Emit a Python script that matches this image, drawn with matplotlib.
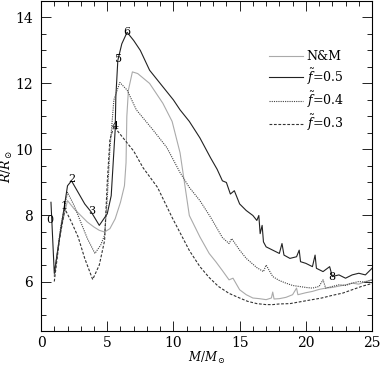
# Import libraries
import matplotlib
matplotlib.use('Agg')
import matplotlib.pyplot as plt
from matplotlib.ticker import MultipleLocator

# Data (mass in M_sun, radius in R_sun)
nm_x = [1.0, 1.5, 2.0, 2.5, 3.0, 3.5, 4.0, 4.4, 4.8, 5.2, 5.6, 6.0, 6.3, 6.42, 6.48, 6.6, 6.9, 7.3,
        8.2, 9.2, 9.9, 10.5, 11.2, 12.0, 12.7, 13.2, 13.7, 14.2, 14.5, 15.0, 15.5, 16.0, 16.5, 17.0,
        17.4, 17.5, 17.6, 18.0, 18.5, 19.0, 19.3, 19.4, 20.0, 20.5, 21.0, 21.5, 22.0, 22.5, 23.0,
        23.5, 24.0, 24.5, 25.0]
nm_y = [6.2, 7.6, 8.45, 8.2, 8.0, 7.8, 7.65, 7.55, 7.5, 7.6, 7.9, 8.4, 8.9, 9.6, 11.0, 11.8, 12.35, 12.3,
        12.0, 11.4, 10.85, 9.9, 8.0, 7.35, 6.85, 6.6, 6.33, 6.05, 6.1, 5.75, 5.6, 5.5, 5.48, 5.45,
        5.5, 5.68, 5.47, 5.48, 5.52, 5.6, 5.8, 5.6, 5.66, 5.7, 5.76, 5.8, 5.82, 5.86, 5.9,
        5.95, 5.92, 6.0, 6.05]

f05_x = [0.75, 1.0, 1.5, 2.0, 2.3, 2.8, 3.3, 3.8, 4.4, 5.0, 5.3, 5.6, 5.65, 5.8, 6.1, 6.5, 7.0, 7.5,
         8.2, 9.0, 10.0, 10.5, 11.2, 12.0, 12.8, 13.3, 13.7, 14.0, 14.3, 14.6, 15.0, 15.5, 16.0, 16.3,
         16.45, 16.55, 16.7, 16.8, 17.0, 17.5, 18.0, 18.2, 18.35, 18.8, 19.3, 19.5, 19.6, 20.0, 20.5,
         20.7, 20.8, 21.3, 21.8, 22.0, 22.5, 23.0, 23.5, 24.0, 24.5, 25.0]
f05_y = [8.4, 6.25, 7.6, 8.9, 9.05, 8.7, 8.35, 8.1, 7.7, 8.05, 8.6, 10.6, 11.6, 12.7, 13.2, 13.55, 13.3, 13.0,
         12.4, 12.0, 11.5, 11.2, 10.85, 10.35, 9.75, 9.4, 9.05, 9.0, 8.65, 8.75, 8.35, 8.15, 8.0, 7.85,
         8.0, 7.45, 7.7, 7.2, 7.05, 6.95, 6.85, 7.15, 6.8, 6.7, 6.75, 6.95, 6.6, 6.55, 6.45,
         6.8, 6.4, 6.3, 6.45, 6.15, 6.2, 6.1, 6.2, 6.25, 6.2, 6.4]

f04_x = [1.0, 1.5, 2.0, 2.5, 3.0, 3.5, 4.07, 4.5, 4.8, 5.0, 5.2, 5.5, 5.95, 6.5, 7.2, 8.44, 9.5,
         10.5, 11.2, 12.0, 12.8, 13.7, 14.2, 14.4, 15.0, 15.5, 16.3, 16.8, 17.0, 17.5, 18.0, 18.5,
         19.0, 19.5, 20.0, 20.5, 21.0, 21.3, 21.5, 22.0, 22.5, 23.0, 23.5, 24.0, 24.5, 25.0]
f04_y = [6.15, 7.7, 8.7, 8.3, 7.8, 7.3, 6.85, 7.1, 7.4, 8.5, 10.0, 11.5, 12.03, 11.8, 11.2, 10.6, 10.06,
         9.3, 8.85, 8.45, 7.95, 7.33, 7.15, 7.3, 6.95, 6.7, 6.42, 6.3, 6.5, 6.15, 6.03, 5.95,
         5.88, 5.85, 5.82, 5.8, 5.85, 6.05, 5.8, 5.85, 5.9, 5.88, 5.95, 6.0, 5.98, 6.05]

f03_x = [1.0, 1.4, 1.8, 2.3, 2.8, 3.3, 3.9, 4.4, 4.8, 5.0, 5.2, 5.5, 6.2, 7.0, 7.7, 8.8, 9.9, 11.2,
         12.0, 12.7, 13.4, 14.2, 15.0, 15.6, 16.3, 17.0, 17.5, 18.0, 18.8, 19.5, 20.2, 21.2, 22.0,
         22.8, 23.5, 24.2, 25.0]
f03_y = [6.0, 7.3, 8.2, 7.8, 7.35, 6.7, 6.06, 6.5, 7.24, 9.0, 10.3, 10.7, 10.35, 9.95, 9.45, 8.85, 7.94, 6.94,
         6.45, 6.12, 5.85, 5.64, 5.5, 5.4, 5.33, 5.3, 5.3, 5.32, 5.33, 5.38, 5.43, 5.5, 5.58,
         5.65, 5.75, 5.85, 5.94]

legend_labels = ['N&M', r'$\tilde{f}$=0.5', r'$\tilde{f}$=0.4', r'$\tilde{f}$=0.3']
point_labels = ['0', '1', '2', '3', '4', '5', '6', '8']
point_x = [0.7, 1.75, 2.3, 3.8, 5.6, 5.85, 6.5, 22.0]
point_y = [7.85, 8.3, 9.1, 8.15, 10.7, 12.75, 13.55, 6.15]

# make plots look like the paper
plt.rcParams['font.family'] = 'DejaVu Serif'
plt.rcParams['mathtext.fontset'] = 'dejavuserif'

fig = plt.figure(figsize=(3.8, 3.68), dpi=100)
ax = fig.add_axes([0.108, 0.1005, 0.871, 0.897])

ax.plot(nm_x, nm_y, color='#aaaaaa', lw=0.8, label=legend_labels[0])
ax.plot(f05_x, f05_y, color='#222222', lw=0.8, label=legend_labels[1])
ax.plot(f04_x, f04_y, color='#444444', lw=0.8, ls=(0, (1, 1)), label=legend_labels[2])
ax.plot(f03_x, f03_y, color='#333333', lw=0.8, ls=(0, (2.5, 1.5)), label=legend_labels[3])

for lab, px, py in zip(point_labels, point_x, point_y):
    ax.text(px, py, lab, fontsize=8, ha='center', va='center')

ax.set_xlim(0, 25)
ax.set_ylim(4.5, 14.5)
ax.xaxis.set_major_locator(MultipleLocator(5))
ax.xaxis.set_minor_locator(MultipleLocator(1))
ax.yaxis.set_major_locator(MultipleLocator(2))
ax.yaxis.set_minor_locator(MultipleLocator(0.5))
ax.tick_params(which='both', direction='in', top=True, right=True, labelsize=10, width=0.6)
ax.tick_params(which='major', length=7)
ax.tick_params(axis='y', which='major', pad=6)
ax.tick_params(which='minor', length=3.5)
for s in ax.spines.values():
    s.set_linewidth(0.8)

ax.set_xlabel(r'$M/M_\odot$', fontsize=8.5)
ax.set_ylabel(r'$R/R_\odot$', fontsize=9)
ax.xaxis.set_label_coords(0.5, -0.057)
ax.yaxis.set_label_coords(-0.08, 0.5)

ax.legend(loc='upper left', bbox_to_anchor=(0.67, 0.87), frameon=False, fontsize=9,
          handlelength=2.7, handletextpad=0.3, labelspacing=0.25, borderpad=0)

fig.savefig('out.png', dpi=100)
